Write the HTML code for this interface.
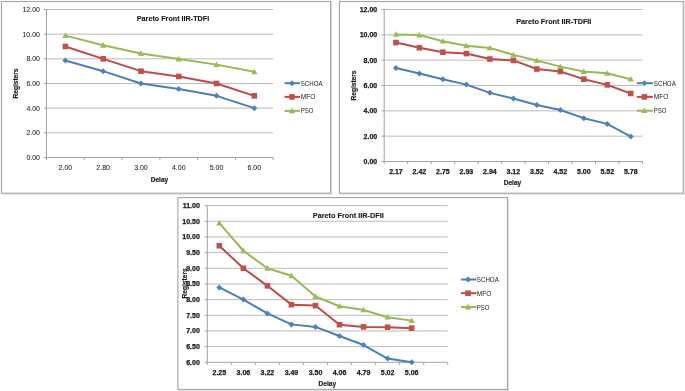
<!DOCTYPE html>
<html><head><meta charset="utf-8"><style>
html,body{margin:0;padding:0;background:#fff;}
body{width:685px;height:391px;overflow:hidden;}
#w{width:685px;height:391px;will-change:transform;}
svg{display:block;font-family:"Liberation Sans",sans-serif;}
.t{font-size:7.0px;fill:#1a1a1a;stroke:#1a1a1a;stroke-width:0.05px;}
.b{font-size:6.6px;fill:#1a1a1a;font-weight:bold;stroke:#1a1a1a;stroke-width:0.15px;}
.h{font-size:7.3px;fill:#1a1a1a;font-weight:bold;stroke:#1a1a1a;stroke-width:0.12px;}
.l{font-size:7.0px;fill:#1a1a1a;}
.tb{font-size:7.0px;fill:#1a1a1a;font-weight:bold;stroke:#1a1a1a;stroke-width:0.25px;}
</style></head><body>
<div id="w"><svg width="685" height="391" viewBox="0 0 685 391">
<rect width="685" height="391" fill="#fff"/>
<rect x="2.5" y="2.5" width="329.1" height="191.7" fill="none" stroke="#e2e2e2" stroke-width="1.2"/>
<rect x="1.5" y="1.5" width="329.1" height="191.7" fill="#fff" stroke="#a4a4a4" stroke-width="1.1"/>
<line x1="46.5" y1="132.83" x2="273.2" y2="132.83" stroke="#bcbcbc" stroke-width="1"/>
<line x1="46.5" y1="108.17" x2="273.2" y2="108.17" stroke="#bcbcbc" stroke-width="1"/>
<line x1="46.5" y1="83.5" x2="273.2" y2="83.5" stroke="#bcbcbc" stroke-width="1"/>
<line x1="46.5" y1="58.83" x2="273.2" y2="58.83" stroke="#bcbcbc" stroke-width="1"/>
<line x1="46.5" y1="34.17" x2="273.2" y2="34.17" stroke="#bcbcbc" stroke-width="1"/>
<line x1="46.5" y1="9.5" x2="273.2" y2="9.5" stroke="#bcbcbc" stroke-width="1"/>
<line x1="46.5" y1="9.5" x2="46.5" y2="157.5" stroke="#a2a2a2" stroke-width="1"/>
<line x1="46.5" y1="157.5" x2="273.2" y2="157.5" stroke="#a2a2a2" stroke-width="1"/>
<line x1="43.9" y1="157.5" x2="46.5" y2="157.5" stroke="#a2a2a2" stroke-width="1"/>
<line x1="43.9" y1="132.83" x2="46.5" y2="132.83" stroke="#a2a2a2" stroke-width="1"/>
<line x1="43.9" y1="108.17" x2="46.5" y2="108.17" stroke="#a2a2a2" stroke-width="1"/>
<line x1="43.9" y1="83.5" x2="46.5" y2="83.5" stroke="#a2a2a2" stroke-width="1"/>
<line x1="43.9" y1="58.83" x2="46.5" y2="58.83" stroke="#a2a2a2" stroke-width="1"/>
<line x1="43.9" y1="34.17" x2="46.5" y2="34.17" stroke="#a2a2a2" stroke-width="1"/>
<line x1="43.9" y1="9.5" x2="46.5" y2="9.5" stroke="#a2a2a2" stroke-width="1"/>
<line x1="46.5" y1="157.5" x2="46.5" y2="160.1" stroke="#a2a2a2" stroke-width="1"/>
<line x1="84.28" y1="157.5" x2="84.28" y2="160.1" stroke="#a2a2a2" stroke-width="1"/>
<line x1="122.07" y1="157.5" x2="122.07" y2="160.1" stroke="#a2a2a2" stroke-width="1"/>
<line x1="159.85" y1="157.5" x2="159.85" y2="160.1" stroke="#a2a2a2" stroke-width="1"/>
<line x1="197.63" y1="157.5" x2="197.63" y2="160.1" stroke="#a2a2a2" stroke-width="1"/>
<line x1="235.42" y1="157.5" x2="235.42" y2="160.1" stroke="#a2a2a2" stroke-width="1"/>
<line x1="273.2" y1="157.5" x2="273.2" y2="160.1" stroke="#a2a2a2" stroke-width="1"/>
<text x="40" y="159.9" text-anchor="end" class="t">0.00</text>
<text x="40" y="135.23" text-anchor="end" class="t">2.00</text>
<text x="40" y="110.57" text-anchor="end" class="t">4.00</text>
<text x="40" y="85.9" text-anchor="end" class="t">6.00</text>
<text x="40" y="61.23" text-anchor="end" class="t">8.00</text>
<text x="40" y="36.57" text-anchor="end" class="t">10.00</text>
<text x="40" y="11.9" text-anchor="end" class="t">12.00</text>
<text x="65.39" y="170.2" text-anchor="middle" class="t">2.00</text>
<text x="103.17" y="170.2" text-anchor="middle" class="t">2.80</text>
<text x="140.96" y="170.2" text-anchor="middle" class="t">3.00</text>
<text x="178.74" y="170.2" text-anchor="middle" class="t">4.00</text>
<text x="216.52" y="170.2" text-anchor="middle" class="t">5.00</text>
<text x="254.31" y="170.2" text-anchor="middle" class="t">6.00</text>
<polyline points="65.39,60.44 103.17,71.17 140.96,83.5 178.74,89.05 216.52,95.83 254.31,108.17" fill="none" stroke="#4A7EBB" stroke-width="2" stroke-linejoin="round"/>
<polyline points="65.39,46.5 103.17,58.83 140.96,71.17 178.74,76.47 216.52,83.5 254.31,95.83" fill="none" stroke="#BE4B48" stroke-width="2" stroke-linejoin="round"/>
<polyline points="65.39,35.65 103.17,45.27 140.96,53.53 178.74,59.08 216.52,64.63 254.31,71.78" fill="none" stroke="#98B954" stroke-width="2" stroke-linejoin="round"/>
<path d="M65.39 57.44L68.39 60.44L65.39 63.44L62.39 60.44Z" fill="#4F81BD"/>
<path d="M103.17 68.17L106.17 71.17L103.17 74.17L100.17 71.17Z" fill="#4F81BD"/>
<path d="M140.96 80.5L143.96 83.5L140.96 86.5L137.96 83.5Z" fill="#4F81BD"/>
<path d="M178.74 86.05L181.74 89.05L178.74 92.05L175.74 89.05Z" fill="#4F81BD"/>
<path d="M216.52 92.83L219.52 95.83L216.52 98.83L213.52 95.83Z" fill="#4F81BD"/>
<path d="M254.31 105.17L257.31 108.17L254.31 111.17L251.31 108.17Z" fill="#4F81BD"/>
<rect x="62.59" y="43.7" width="5.6" height="5.6" fill="#C0504D"/>
<rect x="100.38" y="56.03" width="5.6" height="5.6" fill="#C0504D"/>
<rect x="138.16" y="68.37" width="5.6" height="5.6" fill="#C0504D"/>
<rect x="175.94" y="73.67" width="5.6" height="5.6" fill="#C0504D"/>
<rect x="213.72" y="80.7" width="5.6" height="5.6" fill="#C0504D"/>
<rect x="251.51" y="93.03" width="5.6" height="5.6" fill="#C0504D"/>
<path d="M65.39 32.45L68.59 38.05L62.19 38.05Z" fill="#9BBB59"/>
<path d="M103.17 42.07L106.38 47.67L99.97 47.67Z" fill="#9BBB59"/>
<path d="M140.96 50.33L144.16 55.93L137.76 55.93Z" fill="#9BBB59"/>
<path d="M178.74 55.88L181.94 61.48L175.54 61.48Z" fill="#9BBB59"/>
<path d="M216.52 61.43L219.72 67.03L213.32 67.03Z" fill="#9BBB59"/>
<path d="M254.31 68.58L257.51 74.18L251.11 74.18Z" fill="#9BBB59"/>
<text x="136.8" y="21" class="h" textLength="72.4" lengthAdjust="spacingAndGlyphs">Pareto Front IIR-TDFI</text>
<text x="159.5" y="181.5" text-anchor="middle" class="b">Delay</text>
<text transform="translate(18.2 83.5) rotate(-90)" x="0" y="0" text-anchor="middle" class="b">Registers</text>
<line x1="284.5" y1="83.2" x2="300" y2="83.2" stroke="#4A7EBB" stroke-width="2"/>
<path d="M292 80.2L295 83.2L292 86.2L289 83.2Z" fill="#4F81BD"/>
<text x="300.7" y="85.7" class="l" textLength="22.0" lengthAdjust="spacingAndGlyphs">SCHOA</text>
<line x1="284.5" y1="96.9" x2="300" y2="96.9" stroke="#BE4B48" stroke-width="2"/>
<rect x="289.2" y="94.1" width="5.6" height="5.6" fill="#C0504D"/>
<text x="300.7" y="99.4" class="l" textLength="14.7" lengthAdjust="spacingAndGlyphs">MFO</text>
<line x1="284.5" y1="110.9" x2="300" y2="110.9" stroke="#98B954" stroke-width="2"/>
<path d="M292 107.7L295.2 113.3L288.8 113.3Z" fill="#9BBB59"/>
<text x="300.7" y="113.4" class="l" textLength="12.7" lengthAdjust="spacingAndGlyphs">PSO</text>
<rect x="340.4" y="2.5" width="343.8" height="191.7" fill="none" stroke="#e2e2e2" stroke-width="1.2"/>
<rect x="339.4" y="1.5" width="343.8" height="191.7" fill="#fff" stroke="#a4a4a4" stroke-width="1.1"/>
<line x1="384.2" y1="136.17" x2="642.5" y2="136.17" stroke="#bcbcbc" stroke-width="1"/>
<line x1="384.2" y1="110.83" x2="642.5" y2="110.83" stroke="#bcbcbc" stroke-width="1"/>
<line x1="384.2" y1="85.5" x2="642.5" y2="85.5" stroke="#bcbcbc" stroke-width="1"/>
<line x1="384.2" y1="60.17" x2="642.5" y2="60.17" stroke="#bcbcbc" stroke-width="1"/>
<line x1="384.2" y1="34.83" x2="642.5" y2="34.83" stroke="#bcbcbc" stroke-width="1"/>
<line x1="384.2" y1="9.5" x2="642.5" y2="9.5" stroke="#bcbcbc" stroke-width="1"/>
<line x1="384.2" y1="9.5" x2="384.2" y2="161.5" stroke="#a2a2a2" stroke-width="1"/>
<line x1="384.2" y1="161.5" x2="642.5" y2="161.5" stroke="#a2a2a2" stroke-width="1"/>
<line x1="381.6" y1="161.5" x2="384.2" y2="161.5" stroke="#a2a2a2" stroke-width="1"/>
<line x1="381.6" y1="136.17" x2="384.2" y2="136.17" stroke="#a2a2a2" stroke-width="1"/>
<line x1="381.6" y1="110.83" x2="384.2" y2="110.83" stroke="#a2a2a2" stroke-width="1"/>
<line x1="381.6" y1="85.5" x2="384.2" y2="85.5" stroke="#a2a2a2" stroke-width="1"/>
<line x1="381.6" y1="60.17" x2="384.2" y2="60.17" stroke="#a2a2a2" stroke-width="1"/>
<line x1="381.6" y1="34.83" x2="384.2" y2="34.83" stroke="#a2a2a2" stroke-width="1"/>
<line x1="381.6" y1="9.5" x2="384.2" y2="9.5" stroke="#a2a2a2" stroke-width="1"/>
<line x1="384.2" y1="161.5" x2="384.2" y2="164.1" stroke="#a2a2a2" stroke-width="1"/>
<line x1="407.68" y1="161.5" x2="407.68" y2="164.1" stroke="#a2a2a2" stroke-width="1"/>
<line x1="431.16" y1="161.5" x2="431.16" y2="164.1" stroke="#a2a2a2" stroke-width="1"/>
<line x1="454.65" y1="161.5" x2="454.65" y2="164.1" stroke="#a2a2a2" stroke-width="1"/>
<line x1="478.13" y1="161.5" x2="478.13" y2="164.1" stroke="#a2a2a2" stroke-width="1"/>
<line x1="501.61" y1="161.5" x2="501.61" y2="164.1" stroke="#a2a2a2" stroke-width="1"/>
<line x1="525.09" y1="161.5" x2="525.09" y2="164.1" stroke="#a2a2a2" stroke-width="1"/>
<line x1="548.57" y1="161.5" x2="548.57" y2="164.1" stroke="#a2a2a2" stroke-width="1"/>
<line x1="572.05" y1="161.5" x2="572.05" y2="164.1" stroke="#a2a2a2" stroke-width="1"/>
<line x1="595.54" y1="161.5" x2="595.54" y2="164.1" stroke="#a2a2a2" stroke-width="1"/>
<line x1="619.02" y1="161.5" x2="619.02" y2="164.1" stroke="#a2a2a2" stroke-width="1"/>
<line x1="642.5" y1="161.5" x2="642.5" y2="164.1" stroke="#a2a2a2" stroke-width="1"/>
<text x="377.2" y="163.9" text-anchor="end" class="tb">0.00</text>
<text x="377.2" y="138.57" text-anchor="end" class="tb">2.00</text>
<text x="377.2" y="113.23" text-anchor="end" class="tb">4.00</text>
<text x="377.2" y="87.9" text-anchor="end" class="tb">6.00</text>
<text x="377.2" y="62.57" text-anchor="end" class="tb">8.00</text>
<text x="377.2" y="37.23" text-anchor="end" class="tb">10.00</text>
<text x="377.2" y="11.9" text-anchor="end" class="tb">12.00</text>
<text x="395.94" y="174" text-anchor="middle" class="tb">2.17</text>
<text x="419.42" y="174" text-anchor="middle" class="tb">2.42</text>
<text x="442.9" y="174" text-anchor="middle" class="tb">2.75</text>
<text x="466.39" y="174" text-anchor="middle" class="tb">2.93</text>
<text x="489.87" y="174" text-anchor="middle" class="tb">2.94</text>
<text x="513.35" y="174" text-anchor="middle" class="tb">3.12</text>
<text x="536.83" y="174" text-anchor="middle" class="tb">3.52</text>
<text x="560.31" y="174" text-anchor="middle" class="tb">4.52</text>
<text x="583.8" y="174" text-anchor="middle" class="tb">5.00</text>
<text x="607.28" y="174" text-anchor="middle" class="tb">5.52</text>
<text x="630.76" y="174" text-anchor="middle" class="tb">5.78</text>
<polyline points="395.94,68.02 419.42,73.47 442.9,79.17 466.39,84.61 489.87,92.85 513.35,98.55 536.83,105.01 560.31,109.95 583.8,118.18 607.28,123.88 630.76,136.55" fill="none" stroke="#4A7EBB" stroke-width="2" stroke-linejoin="round"/>
<polyline points="395.94,42.56 419.42,47.75 442.9,52.19 466.39,53.58 489.87,59.03 513.35,60.42 536.83,69.03 560.31,71.44 583.8,79.17 607.28,84.87 630.76,93.48" fill="none" stroke="#BE4B48" stroke-width="2" stroke-linejoin="round"/>
<polyline points="395.94,34.45 419.42,35.09 442.9,41.17 466.39,45.73 489.87,47.88 513.35,54.85 536.83,60.55 560.31,66.63 583.8,71.57 607.28,73.34 630.76,79.17" fill="none" stroke="#98B954" stroke-width="2" stroke-linejoin="round"/>
<path d="M395.94 65.02L398.94 68.02L395.94 71.02L392.94 68.02Z" fill="#4F81BD"/>
<path d="M419.42 70.47L422.42 73.47L419.42 76.47L416.42 73.47Z" fill="#4F81BD"/>
<path d="M442.9 76.17L445.9 79.17L442.9 82.17L439.9 79.17Z" fill="#4F81BD"/>
<path d="M466.39 81.61L469.39 84.61L466.39 87.61L463.39 84.61Z" fill="#4F81BD"/>
<path d="M489.87 89.85L492.87 92.85L489.87 95.85L486.87 92.85Z" fill="#4F81BD"/>
<path d="M513.35 95.55L516.35 98.55L513.35 101.55L510.35 98.55Z" fill="#4F81BD"/>
<path d="M536.83 102.01L539.83 105.01L536.83 108.01L533.83 105.01Z" fill="#4F81BD"/>
<path d="M560.31 106.95L563.31 109.95L560.31 112.95L557.31 109.95Z" fill="#4F81BD"/>
<path d="M583.8 115.18L586.8 118.18L583.8 121.18L580.8 118.18Z" fill="#4F81BD"/>
<path d="M607.28 120.88L610.28 123.88L607.28 126.88L604.28 123.88Z" fill="#4F81BD"/>
<path d="M630.76 133.55L633.76 136.55L630.76 139.55L627.76 136.55Z" fill="#4F81BD"/>
<rect x="393.14" y="39.76" width="5.6" height="5.6" fill="#C0504D"/>
<rect x="416.62" y="44.95" width="5.6" height="5.6" fill="#C0504D"/>
<rect x="440.1" y="49.39" width="5.6" height="5.6" fill="#C0504D"/>
<rect x="463.59" y="50.78" width="5.6" height="5.6" fill="#C0504D"/>
<rect x="487.07" y="56.23" width="5.6" height="5.6" fill="#C0504D"/>
<rect x="510.55" y="57.62" width="5.6" height="5.6" fill="#C0504D"/>
<rect x="534.03" y="66.23" width="5.6" height="5.6" fill="#C0504D"/>
<rect x="557.51" y="68.64" width="5.6" height="5.6" fill="#C0504D"/>
<rect x="581" y="76.37" width="5.6" height="5.6" fill="#C0504D"/>
<rect x="604.48" y="82.07" width="5.6" height="5.6" fill="#C0504D"/>
<rect x="627.96" y="90.68" width="5.6" height="5.6" fill="#C0504D"/>
<path d="M395.94 31.25L399.14 36.85L392.74 36.85Z" fill="#9BBB59"/>
<path d="M419.42 31.89L422.62 37.49L416.22 37.49Z" fill="#9BBB59"/>
<path d="M442.9 37.97L446.1 43.57L439.7 43.57Z" fill="#9BBB59"/>
<path d="M466.39 42.53L469.59 48.13L463.19 48.13Z" fill="#9BBB59"/>
<path d="M489.87 44.68L493.07 50.28L486.67 50.28Z" fill="#9BBB59"/>
<path d="M513.35 51.65L516.55 57.25L510.15 57.25Z" fill="#9BBB59"/>
<path d="M536.83 57.35L540.03 62.95L533.63 62.95Z" fill="#9BBB59"/>
<path d="M560.31 63.43L563.51 69.03L557.11 69.03Z" fill="#9BBB59"/>
<path d="M583.8 68.37L587 73.97L580.6 73.97Z" fill="#9BBB59"/>
<path d="M607.28 70.14L610.48 75.74L604.08 75.74Z" fill="#9BBB59"/>
<path d="M630.76 75.97L633.96 81.57L627.56 81.57Z" fill="#9BBB59"/>
<text x="516.2" y="24" class="h" textLength="75.2" lengthAdjust="spacingAndGlyphs">Pareto Front IIR-TDFII</text>
<text x="512.5" y="185.2" text-anchor="middle" class="b">Delay</text>
<text transform="translate(356 85.5) rotate(-90)" x="0" y="0" text-anchor="middle" class="b">Registers</text>
<line x1="636.9" y1="83.2" x2="652.9" y2="83.2" stroke="#4A7EBB" stroke-width="2"/>
<path d="M644.4 80.2L647.4 83.2L644.4 86.2L641.4 83.2Z" fill="#4F81BD"/>
<text x="653.8" y="85.7" class="l" textLength="22.0" lengthAdjust="spacingAndGlyphs">SCHOA</text>
<line x1="636.9" y1="96.9" x2="652.9" y2="96.9" stroke="#BE4B48" stroke-width="2"/>
<rect x="641.6" y="94.1" width="5.6" height="5.6" fill="#C0504D"/>
<text x="653.8" y="99.4" class="l" textLength="14.7" lengthAdjust="spacingAndGlyphs">MFO</text>
<line x1="636.9" y1="110.7" x2="652.9" y2="110.7" stroke="#98B954" stroke-width="2"/>
<path d="M644.4 107.5L647.6 113.1L641.2 113.1Z" fill="#9BBB59"/>
<text x="653.8" y="113.2" class="l" textLength="12.7" lengthAdjust="spacingAndGlyphs">PSO</text>
<rect x="178.9" y="198.6" width="329.6" height="191.8" fill="none" stroke="#e2e2e2" stroke-width="1.2"/>
<rect x="177.9" y="197.6" width="329.6" height="191.8" fill="#fff" stroke="#a4a4a4" stroke-width="1.1"/>
<line x1="207.3" y1="346.63" x2="447.7" y2="346.63" stroke="#bcbcbc" stroke-width="1"/>
<line x1="207.3" y1="330.96" x2="447.7" y2="330.96" stroke="#bcbcbc" stroke-width="1"/>
<line x1="207.3" y1="315.29" x2="447.7" y2="315.29" stroke="#bcbcbc" stroke-width="1"/>
<line x1="207.3" y1="299.62" x2="447.7" y2="299.62" stroke="#bcbcbc" stroke-width="1"/>
<line x1="207.3" y1="283.95" x2="447.7" y2="283.95" stroke="#bcbcbc" stroke-width="1"/>
<line x1="207.3" y1="268.28" x2="447.7" y2="268.28" stroke="#bcbcbc" stroke-width="1"/>
<line x1="207.3" y1="252.61" x2="447.7" y2="252.61" stroke="#bcbcbc" stroke-width="1"/>
<line x1="207.3" y1="236.94" x2="447.7" y2="236.94" stroke="#bcbcbc" stroke-width="1"/>
<line x1="207.3" y1="221.27" x2="447.7" y2="221.27" stroke="#bcbcbc" stroke-width="1"/>
<line x1="207.3" y1="205.6" x2="447.7" y2="205.6" stroke="#bcbcbc" stroke-width="1"/>
<line x1="207.3" y1="205.6" x2="207.3" y2="362.3" stroke="#a2a2a2" stroke-width="1"/>
<line x1="207.3" y1="362.3" x2="447.7" y2="362.3" stroke="#a2a2a2" stroke-width="1"/>
<line x1="204.7" y1="362.3" x2="207.3" y2="362.3" stroke="#a2a2a2" stroke-width="1"/>
<line x1="204.7" y1="346.63" x2="207.3" y2="346.63" stroke="#a2a2a2" stroke-width="1"/>
<line x1="204.7" y1="330.96" x2="207.3" y2="330.96" stroke="#a2a2a2" stroke-width="1"/>
<line x1="204.7" y1="315.29" x2="207.3" y2="315.29" stroke="#a2a2a2" stroke-width="1"/>
<line x1="204.7" y1="299.62" x2="207.3" y2="299.62" stroke="#a2a2a2" stroke-width="1"/>
<line x1="204.7" y1="283.95" x2="207.3" y2="283.95" stroke="#a2a2a2" stroke-width="1"/>
<line x1="204.7" y1="268.28" x2="207.3" y2="268.28" stroke="#a2a2a2" stroke-width="1"/>
<line x1="204.7" y1="252.61" x2="207.3" y2="252.61" stroke="#a2a2a2" stroke-width="1"/>
<line x1="204.7" y1="236.94" x2="207.3" y2="236.94" stroke="#a2a2a2" stroke-width="1"/>
<line x1="204.7" y1="221.27" x2="207.3" y2="221.27" stroke="#a2a2a2" stroke-width="1"/>
<line x1="204.7" y1="205.6" x2="207.3" y2="205.6" stroke="#a2a2a2" stroke-width="1"/>
<line x1="207.3" y1="362.3" x2="207.3" y2="364.9" stroke="#a2a2a2" stroke-width="1"/>
<line x1="231.34" y1="362.3" x2="231.34" y2="364.9" stroke="#a2a2a2" stroke-width="1"/>
<line x1="255.38" y1="362.3" x2="255.38" y2="364.9" stroke="#a2a2a2" stroke-width="1"/>
<line x1="279.42" y1="362.3" x2="279.42" y2="364.9" stroke="#a2a2a2" stroke-width="1"/>
<line x1="303.46" y1="362.3" x2="303.46" y2="364.9" stroke="#a2a2a2" stroke-width="1"/>
<line x1="327.5" y1="362.3" x2="327.5" y2="364.9" stroke="#a2a2a2" stroke-width="1"/>
<line x1="351.54" y1="362.3" x2="351.54" y2="364.9" stroke="#a2a2a2" stroke-width="1"/>
<line x1="375.58" y1="362.3" x2="375.58" y2="364.9" stroke="#a2a2a2" stroke-width="1"/>
<line x1="399.62" y1="362.3" x2="399.62" y2="364.9" stroke="#a2a2a2" stroke-width="1"/>
<line x1="423.66" y1="362.3" x2="423.66" y2="364.9" stroke="#a2a2a2" stroke-width="1"/>
<line x1="447.7" y1="362.3" x2="447.7" y2="364.9" stroke="#a2a2a2" stroke-width="1"/>
<text x="199.8" y="364.7" text-anchor="end" class="tb">6.00</text>
<text x="199.8" y="349.03" text-anchor="end" class="tb">6.50</text>
<text x="199.8" y="333.36" text-anchor="end" class="tb">7.00</text>
<text x="199.8" y="317.69" text-anchor="end" class="tb">7.50</text>
<text x="199.8" y="302.02" text-anchor="end" class="tb">8.00</text>
<text x="199.8" y="286.35" text-anchor="end" class="tb">8.50</text>
<text x="199.8" y="270.68" text-anchor="end" class="tb">9.00</text>
<text x="199.8" y="255.01" text-anchor="end" class="tb">9.50</text>
<text x="199.8" y="239.34" text-anchor="end" class="tb">10.00</text>
<text x="199.8" y="223.67" text-anchor="end" class="tb">10.50</text>
<text x="199.8" y="208" text-anchor="end" class="tb">11.00</text>
<text x="219.32" y="375.2" text-anchor="middle" class="tb">2.25</text>
<text x="243.36" y="375.2" text-anchor="middle" class="tb">3.06</text>
<text x="267.4" y="375.2" text-anchor="middle" class="tb">3.22</text>
<text x="291.44" y="375.2" text-anchor="middle" class="tb">3.49</text>
<text x="315.48" y="375.2" text-anchor="middle" class="tb">3.50</text>
<text x="339.52" y="375.2" text-anchor="middle" class="tb">4.06</text>
<text x="363.56" y="375.2" text-anchor="middle" class="tb">4.79</text>
<text x="387.6" y="375.2" text-anchor="middle" class="tb">5.02</text>
<text x="411.64" y="375.2" text-anchor="middle" class="tb">5.06</text>
<polyline points="219.32,287.4 243.36,299.62 267.4,313.41 291.44,324.38 315.48,326.89 339.52,335.97 363.56,345.06 387.6,358.54 411.64,362.3" fill="none" stroke="#4A7EBB" stroke-width="2" stroke-linejoin="round"/>
<polyline points="219.32,245.72 243.36,268.28 267.4,285.83 291.44,304.63 315.48,305.57 339.52,324.69 363.56,326.89 387.6,327.2 411.64,328.14" fill="none" stroke="#BE4B48" stroke-width="2" stroke-linejoin="round"/>
<polyline points="219.32,223.15 243.36,250.73 267.4,268.28 291.44,275.8 315.48,296.49 339.52,306.2 363.56,309.96 387.6,317.17 411.64,320.62" fill="none" stroke="#98B954" stroke-width="2" stroke-linejoin="round"/>
<path d="M219.32 284.4L222.32 287.4L219.32 290.4L216.32 287.4Z" fill="#4F81BD"/>
<path d="M243.36 296.62L246.36 299.62L243.36 302.62L240.36 299.62Z" fill="#4F81BD"/>
<path d="M267.4 310.41L270.4 313.41L267.4 316.41L264.4 313.41Z" fill="#4F81BD"/>
<path d="M291.44 321.38L294.44 324.38L291.44 327.38L288.44 324.38Z" fill="#4F81BD"/>
<path d="M315.48 323.89L318.48 326.89L315.48 329.89L312.48 326.89Z" fill="#4F81BD"/>
<path d="M339.52 332.97L342.52 335.97L339.52 338.97L336.52 335.97Z" fill="#4F81BD"/>
<path d="M363.56 342.06L366.56 345.06L363.56 348.06L360.56 345.06Z" fill="#4F81BD"/>
<path d="M387.6 355.54L390.6 358.54L387.6 361.54L384.6 358.54Z" fill="#4F81BD"/>
<path d="M411.64 359.3L414.64 362.3L411.64 365.3L408.64 362.3Z" fill="#4F81BD"/>
<rect x="216.52" y="242.92" width="5.6" height="5.6" fill="#C0504D"/>
<rect x="240.56" y="265.48" width="5.6" height="5.6" fill="#C0504D"/>
<rect x="264.6" y="283.03" width="5.6" height="5.6" fill="#C0504D"/>
<rect x="288.64" y="301.83" width="5.6" height="5.6" fill="#C0504D"/>
<rect x="312.68" y="302.77" width="5.6" height="5.6" fill="#C0504D"/>
<rect x="336.72" y="321.89" width="5.6" height="5.6" fill="#C0504D"/>
<rect x="360.76" y="324.09" width="5.6" height="5.6" fill="#C0504D"/>
<rect x="384.8" y="324.4" width="5.6" height="5.6" fill="#C0504D"/>
<rect x="408.84" y="325.34" width="5.6" height="5.6" fill="#C0504D"/>
<path d="M219.32 219.95L222.52 225.55L216.12 225.55Z" fill="#9BBB59"/>
<path d="M243.36 247.53L246.56 253.13L240.16 253.13Z" fill="#9BBB59"/>
<path d="M267.4 265.08L270.6 270.68L264.2 270.68Z" fill="#9BBB59"/>
<path d="M291.44 272.6L294.64 278.2L288.24 278.2Z" fill="#9BBB59"/>
<path d="M315.48 293.29L318.68 298.89L312.28 298.89Z" fill="#9BBB59"/>
<path d="M339.52 303L342.72 308.6L336.32 308.6Z" fill="#9BBB59"/>
<path d="M363.56 306.76L366.76 312.36L360.36 312.36Z" fill="#9BBB59"/>
<path d="M387.6 313.97L390.8 319.57L384.4 319.57Z" fill="#9BBB59"/>
<path d="M411.64 317.42L414.84 323.02L408.44 323.02Z" fill="#9BBB59"/>
<text x="312.8" y="217.8" class="h" textLength="70.9" lengthAdjust="spacingAndGlyphs">Pareto Front IIR-DFII</text>
<text x="327.3" y="386.1" text-anchor="middle" class="b">Delay</text>
<text transform="translate(187.2 283.4) rotate(-90)" x="0" y="0" text-anchor="middle" class="b">Registers</text>
<line x1="461" y1="279.5" x2="476.4" y2="279.5" stroke="#4A7EBB" stroke-width="2"/>
<path d="M468.1 276.5L471.1 279.5L468.1 282.5L465.1 279.5Z" fill="#4F81BD"/>
<text x="476.8" y="282" class="l" textLength="22.0" lengthAdjust="spacingAndGlyphs">SCHOA</text>
<line x1="461" y1="293.2" x2="476.4" y2="293.2" stroke="#BE4B48" stroke-width="2"/>
<rect x="465.3" y="290.4" width="5.6" height="5.6" fill="#C0504D"/>
<text x="476.8" y="295.7" class="l" textLength="14.7" lengthAdjust="spacingAndGlyphs">MFO</text>
<line x1="461" y1="307" x2="476.4" y2="307" stroke="#98B954" stroke-width="2"/>
<path d="M468.1 303.8L471.3 309.4L464.9 309.4Z" fill="#9BBB59"/>
<text x="476.8" y="309.5" class="l" textLength="12.7" lengthAdjust="spacingAndGlyphs">PSO</text>
</svg></div>
</body></html>
